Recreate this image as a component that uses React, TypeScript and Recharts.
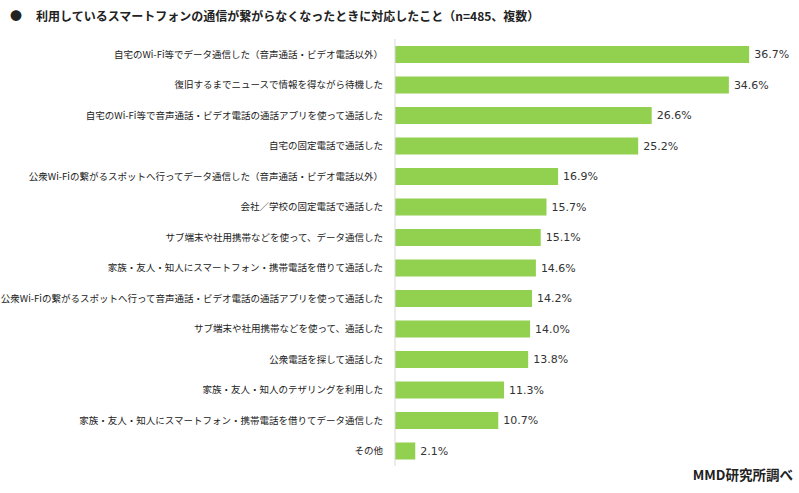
import React from 'react';
import { BarChart, Bar, XAxis, YAxis, LabelList } from 'recharts';

const categories = [
  '自宅のWi-Fi等でデータ通信した（音声通話・ビデオ電話以外）',
  '復旧するまでニュースで情報を得ながら待機した',
  '自宅のWi-Fi等で音声通話・ビデオ電話の通話アプリを使って通話した',
  '自宅の固定電話で通話した',
  '公衆Wi-Fiの繋がるスポットへ行ってデータ通信した（音声通話・ビデオ電話以外）',
  '会社／学校の固定電話で通話した',
  'サブ端末や社用携帯などを使って、データ通信した',
  '家族・友人・知人にスマートフォン・携帯電話を借りて通話した',
  '公衆Wi-Fiの繋がるスポットへ行って音声通話・ビデオ電話の通話アプリを使って通話した',
  'サブ端末や社用携帯などを使って、通話した',
  '公衆電話を探して通話した',
  '家族・友人・知人のテザリングを利用した',
  '家族・友人・知人にスマートフォン・携帯電話を借りてデータ通信した',
  'その他',
];

const values = [36.7, 34.6, 26.6, 25.2, 16.9, 15.7, 15.1, 14.6, 14.2, 14.0, 13.8, 11.3, 10.7, 2.1];

const data = categories.map((name, i) => ({ name, value: values[i] }));

const FONT = '"Noto Sans CJK JP", "Noto Sans", sans-serif';

export default function App() {
  return (
    <div style={{ position: 'absolute', left: 0, top: 0, width: 799, height: 493, background: '#fff', fontFamily: FONT }}>
      <div style={{ position: 'absolute', left: 10, top: 6, fontSize: 12, fontWeight: 700, color: '#222', whiteSpace: 'nowrap', lineHeight: '20px' }}>
        <span style={{ display: 'inline-block', width: 26 }}>●</span>
        利用しているスマートフォンの通信が繋がらなくなったときに対応したこと（n=485、複数）
      </div>
      <BarChart
        width={799}
        height={493}
        data={data}
        layout="vertical"
        margin={{ top: 39, right: 18, bottom: 27, left: 0 }}
        barCategoryGap={0}
      >
        <XAxis type="number" domain={[0, 40]} hide />
        <YAxis
          type="category"
          dataKey="name"
          width={395}
          axisLine={{ stroke: '#d9d9d9' }}
          tickLine={false}
          tickSize={0}
          tickMargin={12}
          interval={0}
          tick={{ fontSize: 9.5, fill: '#222', fontFamily: FONT }}
        />
        <Bar dataKey="value" fill="#92D050" barSize={17} isAnimationActive={false}>
          <LabelList
            dataKey="value"
            position="right"
            offset={5}
            formatter={(v: number) => v.toFixed(1) + '%'}
            style={{ fontSize: 11, fill: '#333', fontFamily: '"DejaVu Sans", Verdana, sans-serif' }}
          />
        </Bar>
      </BarChart>
      <div style={{ position: 'absolute', right: 6, top: 465, fontSize: 13.5, fontWeight: 700, color: '#222', whiteSpace: 'nowrap', lineHeight: '18px' }}>
        MMD研究所調べ
      </div>
    </div>
  );
}
